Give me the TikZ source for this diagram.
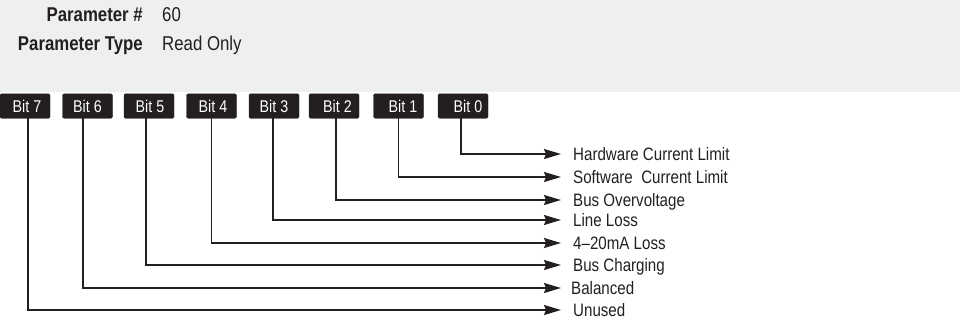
\documentclass[tikz,border=0pt]{standalone}
\usepackage{fontspec}
\setmainfont{Liberation Sans}
\newfontfamily\narrowfont{Liberation Sans}[FakeStretch=0.84]
\usetikzlibrary{arrows.meta}
\definecolor{ink}{HTML}{231F20}
\definecolor{band}{HTML}{EEEFF1}
\tikzset{
  hdr/.style={inner sep=0pt, text=ink, font=\narrowfont\fontsize{20}{22}\selectfont},
  bitbox/.style={fill=ink, draw=ink, rounded corners=1.5pt, minimum width=50pt, minimum height=24.5pt,
     inner sep=0pt, text=white, font=\narrowfont\fontsize{17}{18}\selectfont},
  lbl/.style={anchor=west, inner xsep=12pt, inner ysep=0pt, text height=12.9pt, text depth=0pt,
     text=ink, font=\narrowfont\fontsize{18}{20}\selectfont},
  conn/.style={draw=ink, line width=1.7pt, -{Stealth[length=17pt,width=10pt,inset=2pt]}}
}
\begin{document}
\begin{tikzpicture}[x=1pt,y=-1pt]
\useasboundingbox (0,0) rectangle (960,322);
\fill[band] (0,0) rectangle (960,92);
% header
\node[hdr, anchor=base east] (pnum) at (143,21) {\bfseries Parameter \#};
\node[hdr, anchor=base west] (pnumv) at (162,21) {60};
\node[hdr, anchor=base east] (ptype) at (143,50) {\bfseries Parameter Type};
\node[hdr, anchor=base west] (ptypev) at (162,50) {Read Only};
% bit boxes
\node[bitbox] (b7) at (25,106) {\hspace{4pt}Bit 7};
\node[bitbox] (b6) at (87.5,106) {Bit 6};
\node[bitbox] (b5) at (149,106) {\hspace{2pt}Bit 5};
\node[bitbox] (b4) at (211.5,106) {\hspace{3pt}Bit 4};
\node[bitbox] (b3) at (274,106) {Bit 3};
\node[bitbox] (b2) at (334,106) {\hspace{7pt}Bit 2};
\node[bitbox] (b1) at (398.5,106) {\hspace{9pt}Bit 1};
\node[bitbox] (b0) at (463,106) {\hspace{10pt}Bit 0};
% labels
\node[lbl] (l0) at (561,154) {Hardware Current Limit};
\node[lbl] (l1) at (561,177) {Software\ \ Current Limit};
\node[lbl] (l2) at (561,200) {Bus Overvoltage};
\node[lbl] (l3) at (561,220) {Line Loss};
\node[lbl] (l4) at (561,243) {4–20mA Loss};
\node[lbl] (l5) at (561,265) {Bus Charging};
\node[lbl, inner xsep=10pt] (l6) at (561,288) {Balanced};
\node[lbl] (l7) at (561,310) {Unused};
% connectors
\draw[conn] ([xshift=-2pt]b0.south) |- (l0.west);
\draw[conn] (b1.south) |- (l1.west);
\draw[conn] ([xshift=2pt]b2.south) |- (l2.west);
\draw[conn] ([xshift=-1pt]b3.south) |- (l3.west);
\draw[conn] (b4.south) |- (l4.west);
\draw[conn] ([xshift=-3pt]b5.south) |- (l5.west);
\draw[conn] ([xshift=-4.5pt]b6.south) |- (l6.west);
\draw[conn] ([xshift=3pt]b7.south) |- (l7.west);
\end{tikzpicture}
\end{document}
